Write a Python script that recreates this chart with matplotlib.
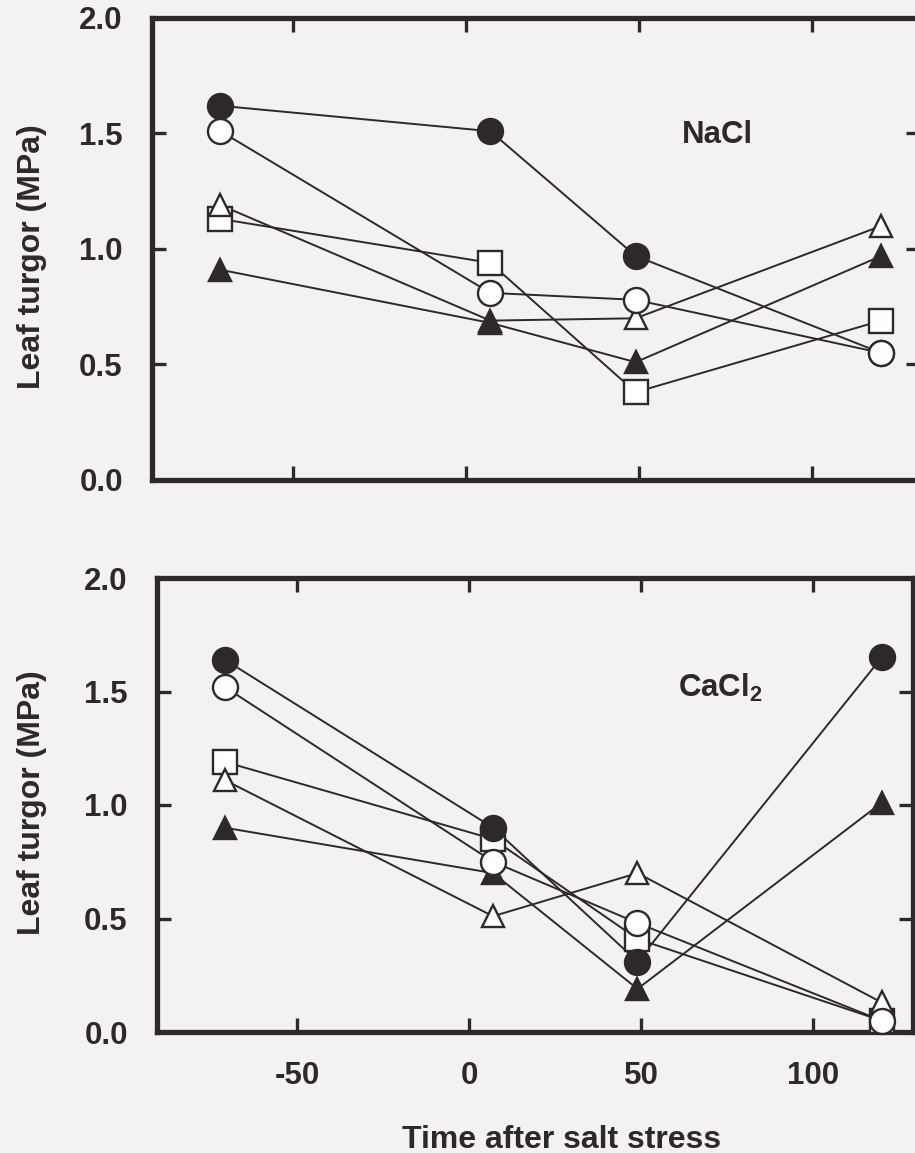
import matplotlib
matplotlib.use("Agg")
import matplotlib.pyplot as plt

# ---- data -------------------------------------------------------------
time_h = [-71, 7, 49, 120]

nacl_open_square = [1.13, 0.94, 0.38, 0.69]
nacl_open_triangle = [1.19, 0.69, 0.70, 1.10]
nacl_filled_triangle = [0.91, 0.68, 0.51, 0.97]
nacl_filled_circle = [1.62, 1.51, 0.97, 0.55]
nacl_open_circle = [1.51, 0.81, 0.78, 0.55]

cacl_open_square = [1.19, 0.85, 0.41, 0.05]
cacl_open_triangle = [1.11, 0.51, 0.70, 0.13]
cacl_filled_triangle = [0.90, 0.70, 0.19, 1.01]
cacl_filled_circle = [1.64, 0.90, 0.31, 1.65]
cacl_open_circle = [1.52, 0.75, 0.48, 0.05]

x_ticks = [-50, 0, 50, 100]
x_tick_labels = ["-50", "0", "50", "100"]
y_ticks = [0.0, 0.5, 1.0, 1.5, 2.0]
y_tick_labels = ["0.0", "0.5", "1.0", "1.5", "2.0"]

panel_labels = ["NaCl", "CaCl$_2$"]
y_title = "Leaf turgor (MPa)"
x_title = "Time after salt stress"

# ---- style ------------------------------------------------------------
INK = "#2d282c"
PAPER = "#f3f1f2"
FONT = "Liberation Sans"

plt.rcParams["font.family"] = [FONT, "DejaVu Sans"]
plt.rcParams["mathtext.fontset"] = "custom"
plt.rcParams["mathtext.rm"] = "Liberation Sans:bold"
plt.rcParams["mathtext.it"] = "Liberation Sans:bold"
plt.rcParams["mathtext.bf"] = "Liberation Sans:bold"

W, H = 915, 1153
fig = plt.figure(figsize=(W / 100, H / 100), dpi=100, facecolor=PAPER)


def px_axes(left, top, right, bottom):
    return fig.add_axes([left / W, 1 - bottom / H, (right - left) / W, (bottom - top) / H])


# marker style per series (drawing order matters for overlaps)
series_style = [
    ("s", "white", 17.5),
    ("^", "white", 16),
    ("^", INK, 16),
    ("o", INK, 18),
    ("o", "white", 18),
]


def draw_panel(ax, series, xlim, label, label_xy, show_xlabels):
    ax.set_facecolor("none")
    ax.set_xlim(*xlim)
    ax.set_ylim(0, 2.0)
    for vals in series:
        ax.plot(time_h, vals, color=INK, lw=1.4, zorder=2, clip_on=False)
    for i, ((mk, fc, ms), vals) in enumerate(zip(series_style, series)):
        ax.plot(time_h, vals, linestyle="none", marker=mk, markersize=ms,
                markerfacecolor=fc, markeredgecolor=INK, markeredgewidth=1.7,
                zorder=4 + i, clip_on=False)
    for sp in ax.spines.values():
        sp.set_linewidth(3.8)
        sp.set_color(INK)
        sp.set_zorder(3)
    ax.set_xticks(x_ticks)
    ax.set_xticklabels(x_tick_labels if show_xlabels else [""] * len(x_ticks))
    ax.set_yticks(y_ticks)
    ax.set_yticklabels(y_tick_labels)
    ax.tick_params(axis="both", which="major", direction="in", length=10,
                   width=2.4, color=INK, labelcolor=INK, labelsize=22.5,
                   pad=21, top=True, right=True)
    for t in ax.get_xticklabels() + ax.get_yticklabels():
        t.set_fontweight("bold")
    ax.text(label_xy[0], label_xy[1], label, transform=ax.transAxes,
            ha="center", va="center", fontsize=22.5, fontweight="bold",
            color=INK)


top_series = [nacl_open_square, nacl_open_triangle, nacl_filled_triangle,
              nacl_filled_circle, nacl_open_circle]
bot_series = [cacl_open_square, cacl_open_triangle, cacl_filled_triangle,
              cacl_filled_circle, cacl_open_circle]

ax1 = px_axes(152, 18, 920, 480)
draw_panel(ax1, top_series, (-90.8, 131.2), panel_labels[0],
           ((717 - 152) / 768, 1 - (135 - 18) / 462), False)

ax2 = px_axes(157, 578, 913, 1032)
draw_panel(ax2, bot_series, (-90.7, 129.1), panel_labels[1],
           ((720 - 157) / 756, 1 - (688 - 578) / 454), True)

# axis titles
fig.text(32 / W, 1 - 257 / H, y_title, rotation=90, ha="center", va="center",
         fontsize=23, fontweight="bold", color=INK)
fig.text(32 / W, 1 - 803 / H, y_title, rotation=90, ha="center", va="center",
         fontsize=23, fontweight="bold", color=INK)
fig.text(562 / W, 1 - 1148 / H, x_title, ha="center", va="baseline",
         fontsize=23, fontweight="bold", color=INK)

fig.savefig("out.png", dpi=100, facecolor=PAPER)
